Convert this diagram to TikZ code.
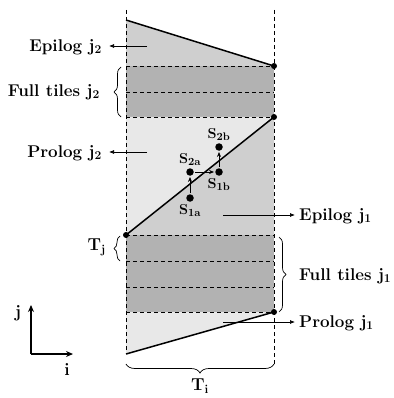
\documentclass[tikz,border=0pt]{standalone}
\usepackage{tikz}
\usetikzlibrary{positioning,arrows.meta,decorations.pathreplacing}

\definecolor{lightband}{gray}{0.91}
\definecolor{midband}{gray}{0.81}
\definecolor{darkband}{gray}{0.70}

\begin{document}
\begin{tikzpicture}[x=1pt, y=-1pt,
  font=\fontsize{17}{20}\selectfont\bfseries,
  lbl/.style={inner sep=1pt},
  slbl/.style={inner sep=1pt, font=\fontsize{15}{17}\selectfont\bfseries},
  corner/.style={circle, fill, inner sep=0pt, minimum size=6pt},
  spt/.style={circle, fill, inner sep=0pt, minimum size=7.5pt},
  tileline/.style={line width=0.8pt, dash pattern=on 4pt off 3pt},
  edge/.style={line width=1.5pt},
  pointer/.style={-{Latex[length=5pt,width=4pt]}, line width=0.7pt},
  dep/.style={-{Stealth[length=5pt,width=4pt]}, line width=0.7pt, shorten <=1pt, shorten >=1pt},
  brc/.style={decorate, decoration={brace, amplitude=#1}, line width=0.7pt},
  axis/.style={-{Stealth[length=7pt,width=6pt]}, line width=1.5pt},
]
\useasboundingbox (0,0) rectangle (393,398);

% bands
\fill[midband]   (126,20) -- (274,66) -- (126,66) -- cycle;
\fill[darkband]  (126,66) rectangle (274,117);
\fill[lightband] (126,117) -- (274,117) -- (126,235) -- cycle;
\fill[midband]   (274,117) -- (274,235) -- (126,235) -- cycle;
\fill[darkband]  (126,235) rectangle (274,312);
\fill[lightband] (126,312) -- (274,312) -- (126,354) -- cycle;

% tile borders
\foreach \y in {66,92,117,235,261,287,312}
  \draw[tileline] (126,\y) -- (274,\y);
\draw[tileline] (126,10) -- (126,354);
\draw[tileline] (274,10) -- (274,365);

% corner points
\node[corner] (c1) at (274,66) {};
\node[corner] (c2) at (274,117) {};
\node[corner] (c3) at (126,235) {};
\node[corner] (c4) at (274,312) {};
\coordinate (c0) at (126,20);
\coordinate (c5) at (126,354);

\draw[edge] (c0) -- (c1.center);
\draw[edge] (c3.center) -- (c2.center);
\draw[edge] (c5) -- (c4.center);

% statements
\node[spt] (s1a) at (190,198) {};
\node[spt] (s2a) at (190,172) {};
\node[spt] (s1b) at (219,172) {};
\node[spt] (s2b) at (219,147) {};
\node[slbl, below=1pt of s1a] (l1a) {$\mathbf{S_{1a}}$};
\node[slbl, above=1pt of s2a] (l2a) {$\mathbf{S_{2a}}$};
\node[slbl, below=1pt of s1b] (l1b) {$\mathbf{S_{1b}}$};
\node[slbl, above=1pt of s2b] (l2b) {$\mathbf{S_{2b}}$};
\draw[dep] (s1a) -- (s2a);
\draw[dep] (s2a) -- (s1b);
\draw[dep] (s1b) -- (s2b);

% region labels
\node[lbl, anchor=east] (ep2) at (103,47) {Epilog $\mathbf{j_2}$};
\node[lbl, anchor=east] (ft2) at (101,92) {Full tiles $\mathbf{j_2}$};
\node[lbl, anchor=east] (pr2) at (103,153) {Prolog $\mathbf{j_2}$};
\node[lbl, anchor=west] (ep1) at (298,216) {Epilog $\mathbf{j_1}$};
\node[lbl, anchor=west] (ft1) at (298,276) {Full tiles $\mathbf{j_1}$};
\node[lbl, anchor=west] (pr1) at (298,323) {Prolog $\mathbf{j_1}$};
\node[lbl, anchor=east] (tj) at (107,247) {$\mathbf{T_j}$};
\node[lbl] (ti) at (200,386) {$\mathbf{T_i}$};

\coordinate (a1) at (147,46);
\coordinate (a2) at (147,152);
\coordinate (a3) at (223,215);
\coordinate (a4) at (223,322);
\draw[pointer, shorten >=6pt] (a1) -- (ep2.east |- a1);
\draw[pointer, shorten >=6pt] (a2) -- (pr2.east |- a2);
\draw[pointer, shorten >=3pt] (a3) -- (ep1.west |- a3);
\draw[pointer, shorten >=3pt] (a4) -- (pr1.west |- a4);

% braces
\draw[brc=7pt] (121,117) -- (121,67);
\draw[brc=6pt] (120,261) -- (120,236);
\draw[brc=7pt] (279,237) -- (279,312);
\draw[brc=9pt] (274,364) -- (126,364);

% axes
\coordinate (o) at (31,354);
\coordinate (jend) at (31,305);
\coordinate (iend) at (73,354);
\draw[axis] (o) -- (jend);
\draw[axis] (o) -- (iend);
\node[lbl] (jl) at (18,313) {$\mathbf{j}$};
\node[lbl] (il) at (67,369) {$\mathbf{i}$};
\end{tikzpicture}
\end{document}
